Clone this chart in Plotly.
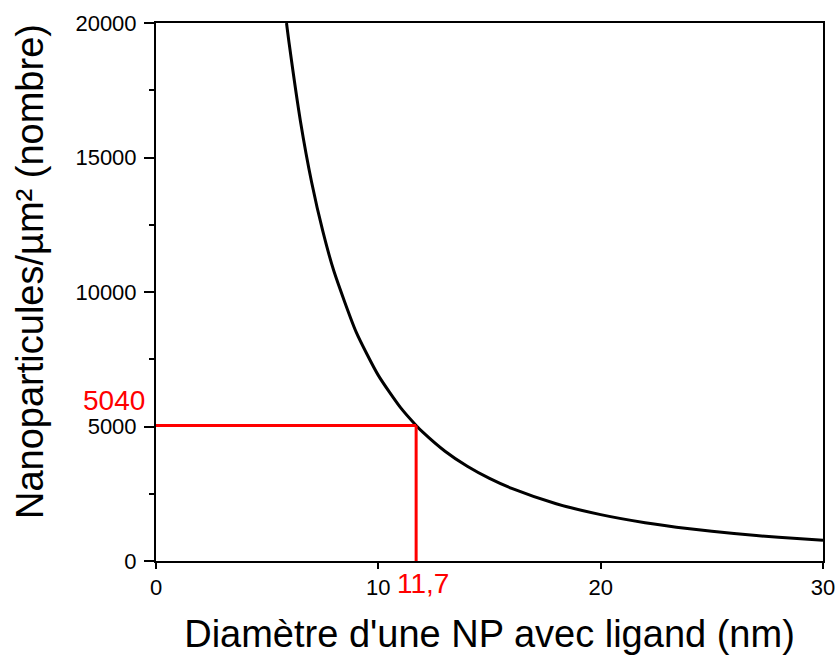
import plotly.graph_objects as go

# Nanoparticle surface density vs. particle diameter (with ligand shell)
diameter_nm = [5.87, 6.0, 6.5, 7.0, 7.5, 8.0, 9.0, 10.0, 11.0, 11.7, 12.0, 13.0,
               14.0, 15.0, 16.0, 18.0, 20.0, 22.0, 24.0, 26.0, 28.0, 30.0]
density_per_um2 = [20000, 19170, 16330, 14080, 12270, 10780, 8520, 6900, 5700, 5040,
                   4790, 4080, 3520, 3070, 2700, 2130, 1725, 1425, 1200, 1020, 880, 767]

# Highlighted operating point
d_mark = 11.7
n_mark = 5040
d_mark_label = "11,7"
n_mark_label = "5040"

x_ticks = [0, 10, 20, 30]
x_tick_labels = ["0", "10", "20", "30"]
y_ticks = [0, 5000, 10000, 15000, 20000]
y_tick_labels = ["0", "5000", "10000", "15000", "20000"]

FONT = "Liberation Sans, Arial, sans-serif"
RED = "#ff0000"

fig = go.Figure()

fig.add_trace(go.Scatter(
    x=diameter_nm, y=density_per_um2, mode="lines",
    line=dict(color="black", width=3, shape="spline", smoothing=0.6),
    hoverinfo="skip", showlegend=False,
))

# Red guide lines to the marked point
fig.add_trace(go.Scatter(
    x=[0, d_mark], y=[n_mark, n_mark], mode="lines",
    line=dict(color=RED, width=3), showlegend=False, hoverinfo="skip",
))
fig.add_trace(go.Scatter(
    x=[d_mark, d_mark], y=[0, n_mark], mode="lines",
    line=dict(color=RED, width=3), showlegend=False, hoverinfo="skip",
))

fig.add_annotation(
    text=n_mark_label, xref="paper", x=0, xanchor="right", xshift=-9,
    yref="y", y=n_mark, yanchor="bottom", yshift=7,
    showarrow=False, font=dict(family=FONT, size=28, color=RED),
)
fig.add_annotation(
    text=d_mark_label, xref="x", x=d_mark, xanchor="center", xshift=7,
    yref="paper", y=0, yanchor="top", yshift=-5,
    showarrow=False, font=dict(family=FONT, size=28, color=RED),
)

# Y-axis title as a rotated annotation
fig.add_annotation(
    text="Nanoparticules/µm² (nombre)", textangle=-90,
    xref="paper", x=0, xanchor="center", xshift=-126,
    yref="paper", y=0.5, yanchor="middle", yshift=20,
    showarrow=False, font=dict(family=FONT, size=38, color="black"),
)

fig.update_layout(
    width=840, height=657,
    margin=dict(l=156, r=17, t=23, b=96),
    paper_bgcolor="white", plot_bgcolor="white",
    font=dict(family=FONT, color="black"),
    showlegend=False,
)

fig.update_xaxes(
    range=[0, 30], tickvals=x_ticks, ticktext=x_tick_labels,
    ticks="outside", ticklen=6, tickwidth=2,
    tickcolor="black", showline=True, linecolor="black", linewidth=2,
    mirror=True, showgrid=False, zeroline=False, automargin=False,
    tickfont=dict(size=22, family=FONT, color="black"),
    title=dict(text="Diamètre d'une NP avec ligand (nm)",
               font=dict(size=38, family=FONT, color="black"), standoff=21),
)
fig.update_yaxes(
    range=[0, 20000], tickvals=y_ticks, ticktext=y_tick_labels,
    ticks="outside", ticklen=10, tickwidth=2, ticklabelstandoff=3,
    tickcolor="black", showline=True, linecolor="black", linewidth=2,
    mirror=True, showgrid=False, zeroline=False, automargin=False,
    tickfont=dict(size=22, family=FONT, color="black"),
    minor=dict(tickvals=[2500, 7500, 12500, 17500], ticks="outside",
               ticklen=5, tickwidth=2, tickcolor="black"),
)

fig.write_html("out.html")
